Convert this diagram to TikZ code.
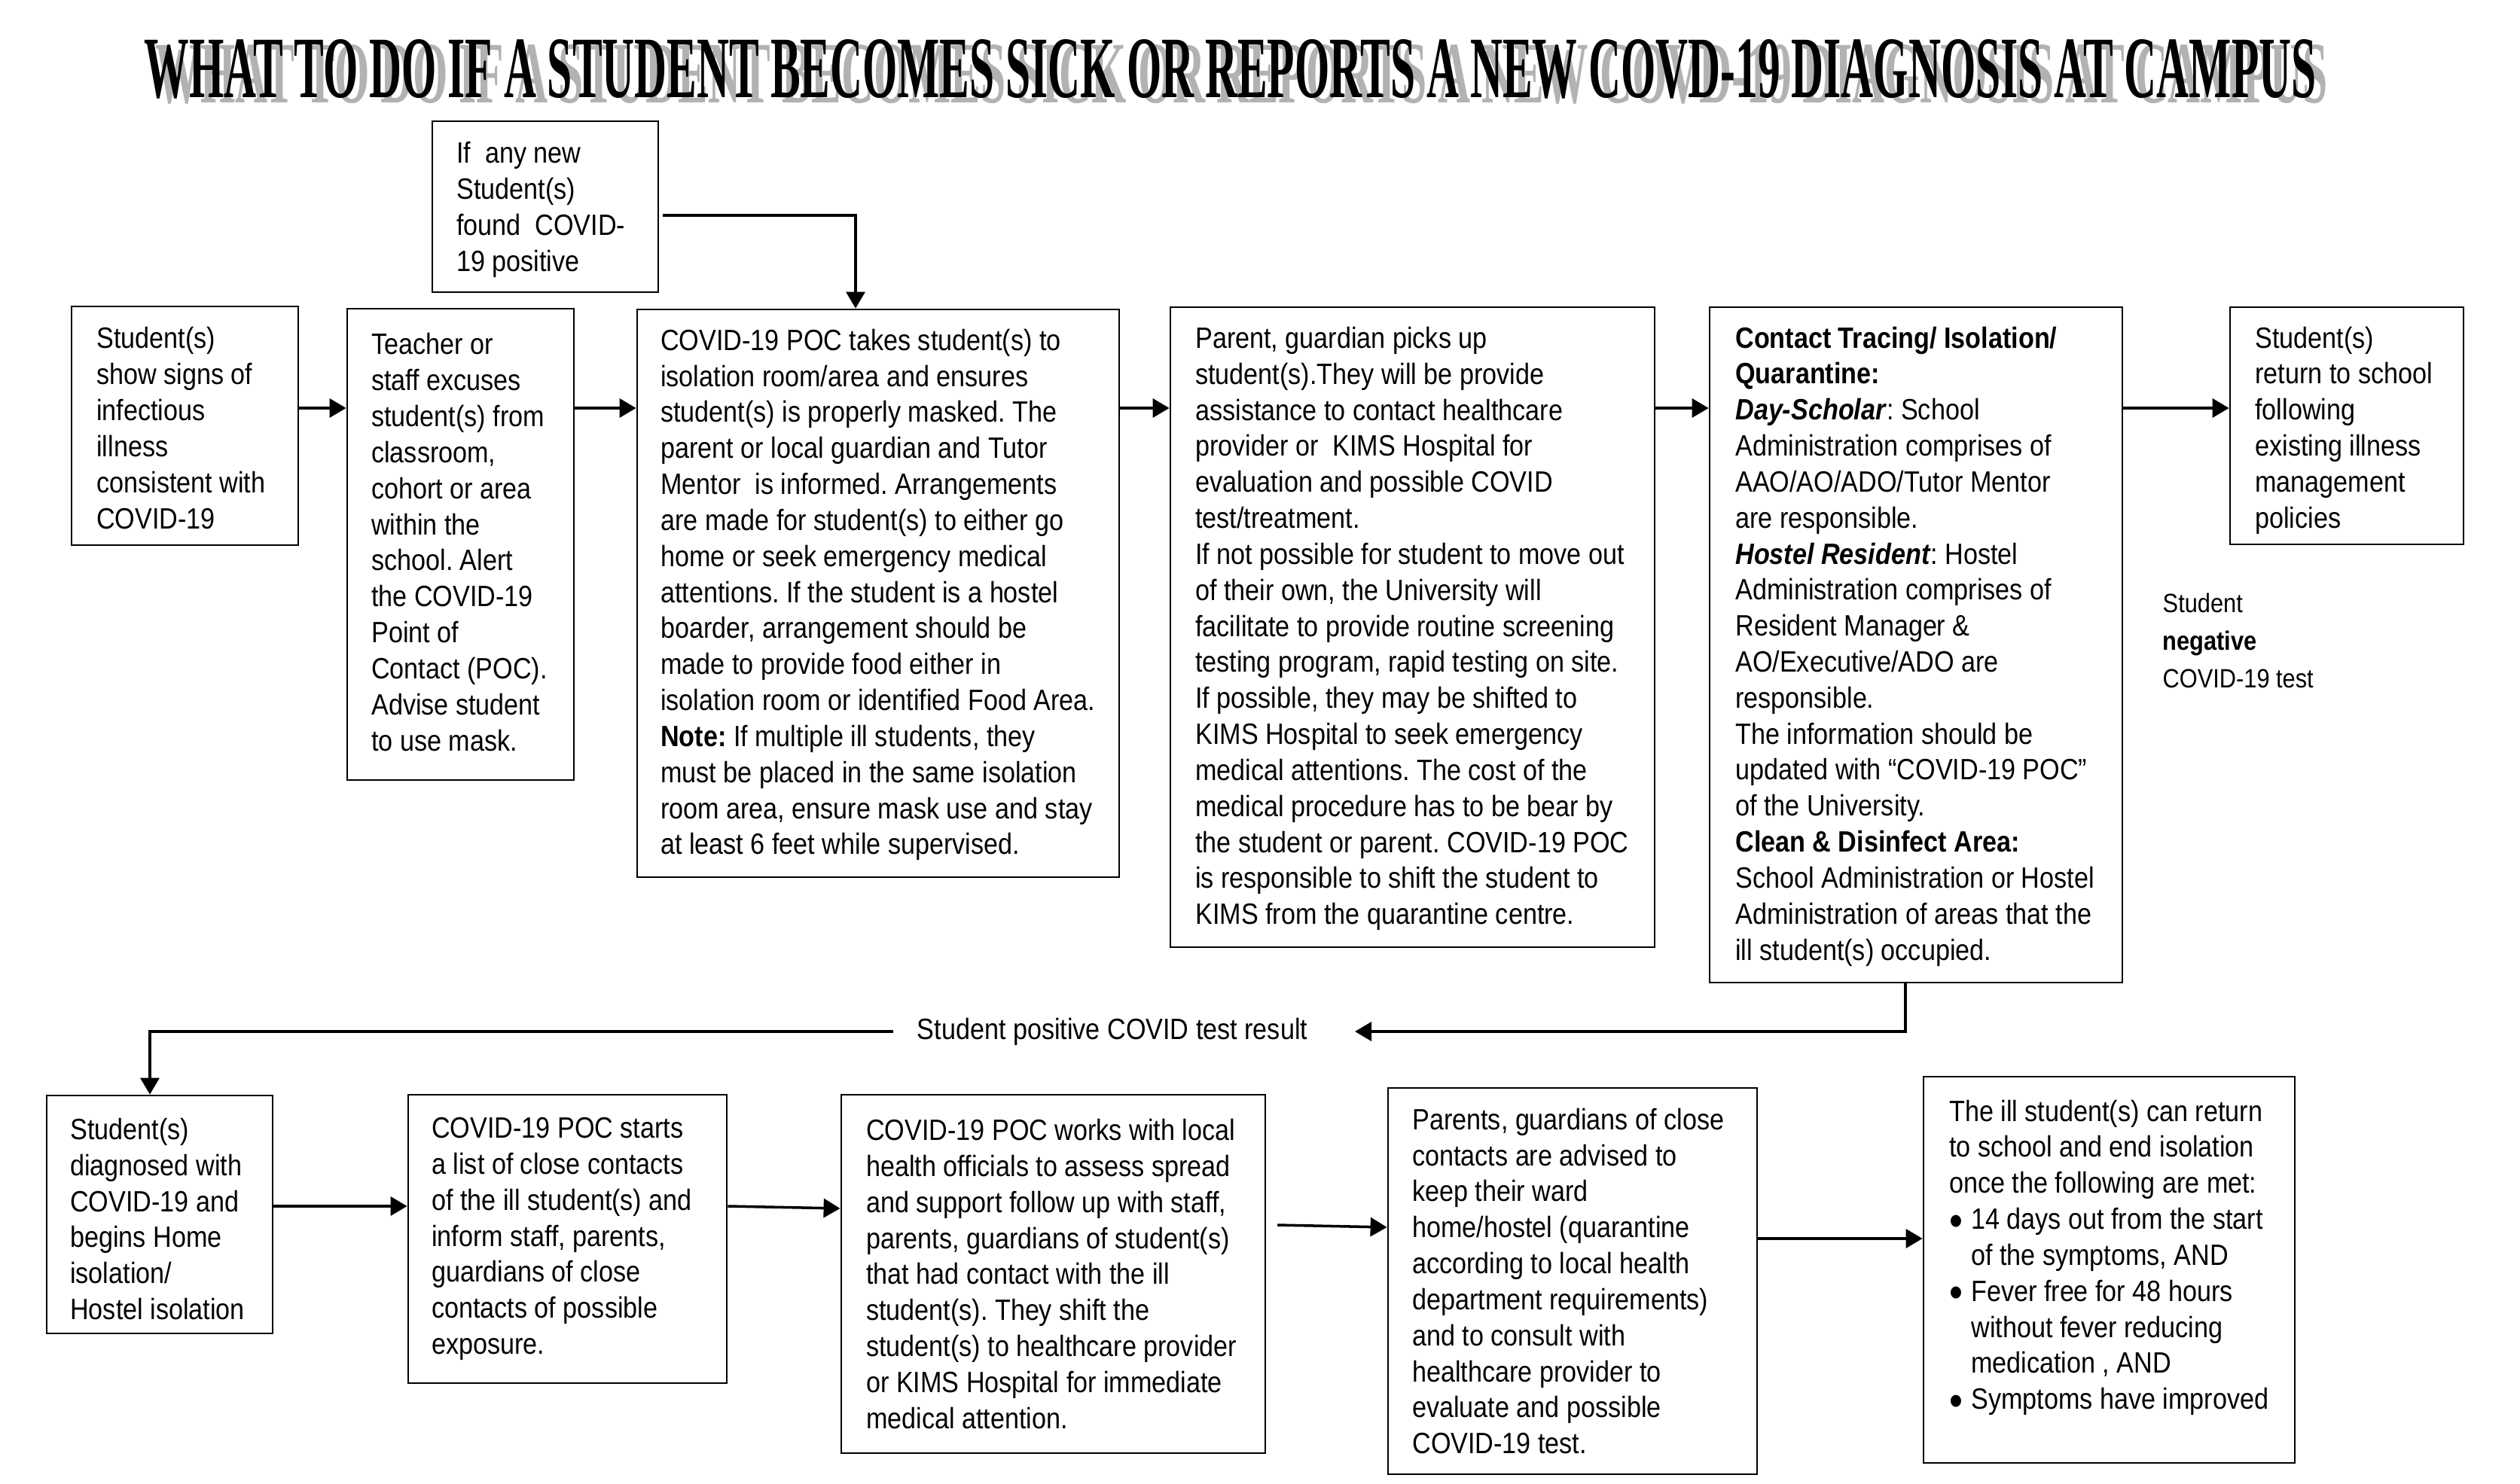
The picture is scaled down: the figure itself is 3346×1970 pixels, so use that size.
\documentclass[tikz,border=0pt]{standalone}
\usepackage{fontspec}
\setmainfont[FakeStretch=0.875]{Liberation Sans}
\newfontfamily\titlefont{Liberation Serif}
\usetikzlibrary{arrows.meta,fit}
\frenchspacing
\newcommand{\bigbul}{\makebox[0.29cm][l]{\raisebox{-0.085cm}{\scalebox{1.5}{•}}}}
\begin{document}
\begin{tikzpicture}[x=0.01cm,y=-0.01cm,
  box/.style={draw, line width=0.8pt, inner sep=0pt},
  txt/.style={anchor=west, align=left, inner sep=0pt, font=\fontsize{11.1pt}{13.6pt}\selectfont},
  lbl/.style={anchor=west, align=left, inner sep=0pt, font=\fontsize{10pt}{14.1pt}\selectfont},
  arr/.style={line width=1pt, -{Triangle[length=0.22cm,width=0.25cm]}},
  ln/.style={line width=1pt}]
\useasboundingbox (0,0) rectangle (3346,1970);
% title
\node[anchor=base west, inner sep=0pt, text=black!30] (titleshadow) at (206,137)
  {\resizebox{28.82cm}{0.77cm}{\titlefont\bfseries WHAT TO DO IF A STUDENT BECOMES SICK OR REPORTS A NEW COVD-19 DIAGNOSIS AT CAMPUS}};
\node[anchor=base west, inner sep=0pt] (title) at (191,130)
  {\resizebox{28.82cm}{0.77cm}{\titlefont\bfseries WHAT TO DO IF A STUDENT BECOMES SICK OR REPORTS A NEW COVD-19 DIAGNOSIS AT CAMPUS}};
% row 1 boxes
\node[box, fit={(95,407) (396,724)}] (b1) {};
\node[box, fit={(461,410) (762,1036)}] (b2) {};
\node[box, fit={(574,161) (874,388)}] (b3) {};
\node[box, fit={(846,411) (1486,1165)}] (b4) {};
\node[box, fit={(1554,408) (2197,1258)}] (b5) {};
\node[box, fit={(2270,408) (2818,1305)}] (b6) {};
\node[box, fit={(2961,408) (3271,723)}] (b7) {};
% row 2 boxes
\node[box, fit={(62,1455) (362,1771)}] (b8) {};
\node[box, fit={(542,1454) (965,1837)}] (b9) {};
\node[box, fit={(1117,1454) (1680,1930)}] (b10) {};
\node[box, fit={(1843,1445) (2333,1958)}] (b11) {};
\node[box, fit={(2554,1430) (3047,1943)}] (b12) {};
% texts
\node[txt] (t1) at ([xshift=0.34cm,yshift=-0.03cm]b1.west) {Student(s)\\show signs of\\infectious\\illness\\consistent with\\COVID-19};
\node[txt] (t2) at ([xshift=0.33cm,yshift=0.03cm]b2.west) {Teacher or\\staff excuses\\student(s) from\\classroom,\\cohort or area\\within the\\school. Alert\\the COVID-19\\Point of\\Contact (POC).\\Advise student\\to use mask.};
\node[txt] (t3) at ([xshift=0.33cm,yshift=-0.04cm]b3.west) {If\ \ any new\\Student(s)\\found\ \ COVID-\\19 positive};
\node[txt] (t4) at ([xshift=0.32cm,yshift=-0.02cm]b4.west) {COVID-19 POC takes student(s) to\\isolation room/area and ensures\\student(s) is properly masked. The\\parent or local guardian and Tutor\\Mentor\ \ is informed. Arrangements\\are made for student(s) to either go\\home or seek emergency medical\\attentions. If the student is a hostel\\boarder, arrangement should be\\made to provide food either in\\isolation room or identified Food Area.\\\textbf{Note:} If multiple ill students, they\\must be placed in the same isolation\\room area, ensure mask use and stay\\at least 6 feet while supervised.};
\node[txt] (t5) at ([xshift=0.34cm,yshift=-0.02cm]b5.west) {Parent, guardian picks up\\student(s).They will be provide\\assistance to contact healthcare\\provider or\ \ KIMS Hospital for\\evaluation and possible COVID\\test/treatment.\\If not possible for student to move out\\of their own, the University will\\facilitate to provide routine screening\\testing program, rapid testing on site.\\If possible, they may be shifted to\\KIMS Hospital to seek emergency\\medical attentions. The cost of the\\medical procedure has to be bear by\\the student or parent. COVID-19 POC\\is responsible to shift the student to\\KIMS from the quarantine centre.};
\node[txt] (t6) at ([xshift=0.35cm,yshift=-0.02cm]b6.west) {\textbf{Contact Tracing/ Isolation/}\\\textbf{Quarantine:}\\\textbf{\textit{Day-Scholar}}: School\\Administration comprises of\\AAO/AO/ADO/Tutor Mentor\\are responsible.\\\textbf{\textit{Hostel Resident}}: Hostel\\Administration comprises of\\Resident Manager \&\\AO/Executive/ADO are\\responsible.\\The information should be\\updated with “COVID-19 POC”\\of the University.\\\textbf{Clean \& Disinfect Area:}\\School Administration or Hostel\\Administration of areas that the\\ill student(s) occupied.};
\node[txt] (t7) at ([xshift=0.34cm,yshift=-0.06cm]b7.west) {Student(s)\\return to school\\following\\existing illness\\management\\policies};
\node[lbl] (neg) at (2871,851) {Student\\\textbf{negative}\\COVID-19 test};
\node[txt] (t8) at ([xshift=0.32cm,yshift=-0.06cm]b8.west) {Student(s)\\diagnosed with\\COVID-19 and\\begins Home\\isolation/\\Hostel isolation};
\node[txt] (t9) at ([xshift=0.32cm]b9.west) {COVID-19 POC starts\\a list of close contacts\\of the ill student(s) and\\inform staff, parents,\\guardians of close\\contacts of possible\\exposure.};
\node[txt] (t10) at ([xshift=0.34cm]b10.west) {COVID-19 POC works with local\\health officials to assess spread\\and support follow up with staff,\\parents, guardians of student(s)\\that had contact with the ill\\student(s). They shift the\\student(s) to healthcare provider\\or KIMS Hospital for immediate\\medical attention.};
\node[txt] (t11) at ([xshift=0.33cm]b11.west) {Parents, guardians of close\\contacts are advised to\\keep their ward\\home/hostel (quarantine\\according to local health\\department requirements)\\and to consult with\\healthcare provider to\\evaluate and possible\\COVID-19 test.};
\node[txt] (t12) at ([xshift=0.35cm,yshift=0.16cm]b12.west) {The ill student(s) can return\\to school and end isolation\\once the following are met:\\\bigbul 14 days out from the start\\\hspace*{0.29cm}of the symptoms, AND\\\bigbul Fever free for 48 hours\\\hspace*{0.29cm}without fever reducing\\\hspace*{0.29cm}medication , AND\\\bigbul Symptoms have improved};
% helper coordinates
\coordinate (r1) at (0,542);
\coordinate (k3s) at (880,286);
\coordinate (k3) at (1136,286);
\coordinate (fbR) at (2530,1370);
\coordinate (fbA) at (1799,1370);
\coordinate (fbB) at (1186,1370);
\coordinate (fbL) at (199,1370);
\coordinate (r2a) at (0,1602);
\coordinate (r2b) at (0,1605);
\coordinate (r2c) at (1696,1627);
\coordinate (r2d) at (0,1630);
\coordinate (r2e) at (0,1645);
\node[inner sep=0pt, font=\fontsize{11.1pt}{13.6pt}\selectfont] (pos) at (1477,1370) {Student positive COVID test result};
% row 1 arrows
\draw[arr] (b1.east |- r1) -- (b2.west |- r1);
\draw[arr] (b2.east |- r1) -- (b4.west |- r1);
\draw[arr] (b4.east |- r1) -- (b5.west |- r1);
\draw[arr] (b5.east |- r1) -- (b6.west |- r1);
\draw[arr] (b6.east |- r1) -- (b7.west |- r1);
\draw[arr] (k3s) -- (k3) -- (k3 |- b4.north);
% feedback
\draw[arr] (fbR |- b6.south) -- (fbR) -- (fbA);
\draw[arr] (fbB) -- (fbL) -- (fbL |- b8.north);
% row 2 arrows
\draw[arr] (b8.east |- r2a) -- (b9.west |- r2a);
\draw[arr] (b9.east |- r2a) -- (b10.west |- r2b);
\draw[arr] (r2c) -- (b11.west |- r2d);
\draw[arr] (b11.east |- r2e) -- (b12.west |- r2e);
\end{tikzpicture}
\end{document}
